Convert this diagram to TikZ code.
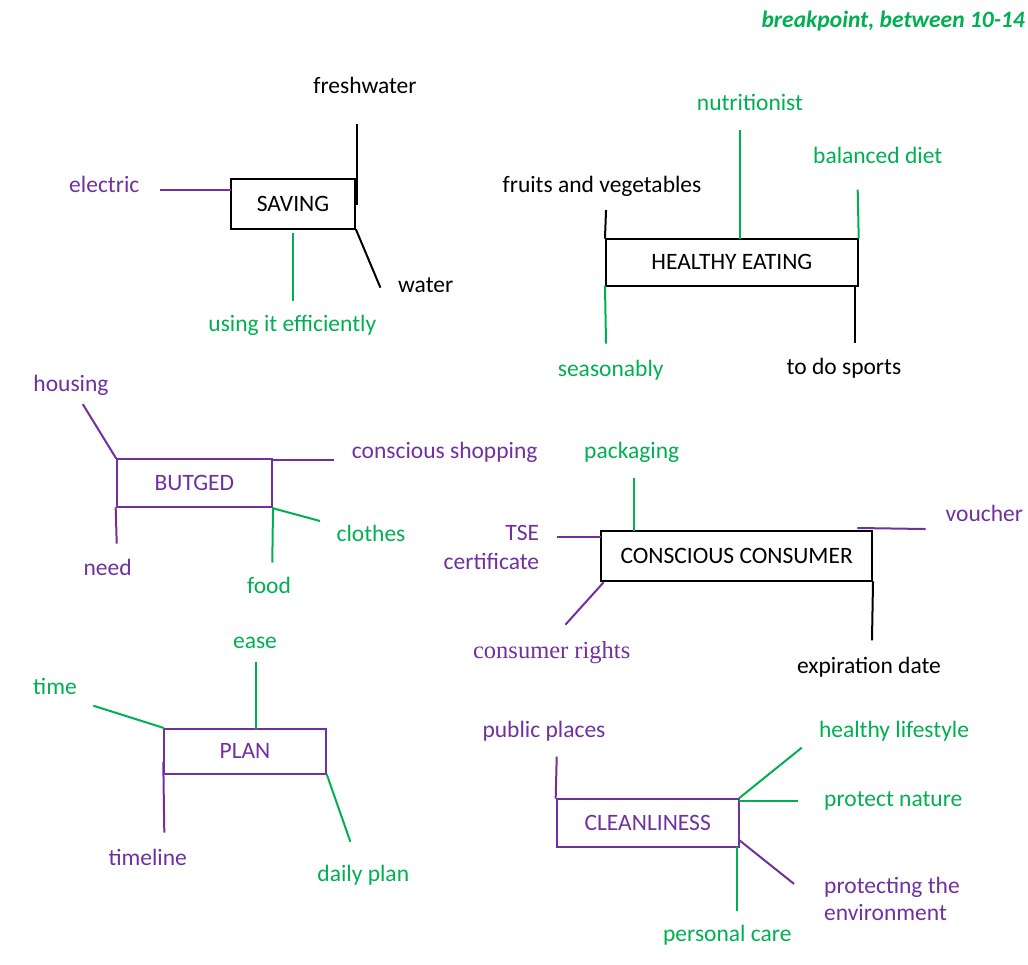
\documentclass[tikz,border=0pt]{standalone}
\usepackage{fontspec}
\setmainfont{Carlito}
\newfontfamily\serifface{Liberation Serif}
\usetikzlibrary{calc}
\definecolor{mmpurple}{HTML}{7030A0}
\definecolor{mmgreen}{HTML}{00B050}
\begin{document}
\begin{tikzpicture}[x=1pt,y=-1pt,
  font=\fontsize{23.5pt}{29pt}\selectfont,
  topic/.style={draw=#1, line width=2pt, inner sep=0pt},
  lbl/.style={inner sep=0pt, anchor=base, text=#1},
  link/.style={draw=#1, line width=2pt, line cap=rect},
]
\useasboundingbox (0,0) rectangle (1028,964);

% ---------- topic boxes ----------
\node[topic=black, minimum width=124.6, minimum height=50] (saving) at (293,204.3) {SAVING};
\node[topic=black, minimum width=251.7, minimum height=47] (healthy) at (731.85,262.2) {HEALTHY EATING};
\node[topic=mmpurple, text=mmpurple, minimum width=155.3, minimum height=48.6] (budget) at (194.35,483) {BUTGED};
\node[topic=black, minimum width=270.7, minimum height=50] (consumer) at (736.65,556.3) {CONSCIOUS CONSUMER};
\node[topic=mmpurple, text=mmpurple, minimum width=162, minimum height=45.3] (plan) at (245,751.35) {PLAN};
\node[topic=mmpurple, text=mmpurple, minimum width=182, minimum height=48.6] (clean) at (647.7,823) {CLEANLINESS};

% ---------- header ----------
\node[lbl=mmgreen, anchor=base east, font=\fontsize{23.5pt}{29pt}\selectfont\bfseries\itshape] (bp) at (1025,27) {breakpoint, between 10-14};

% ---------- SAVING ----------
\coordinate (fw-end) at (357,125);
\coordinate (el-end) at (160.7,190);
\coordinate (use-end) at (293.3,300);
\coordinate (wat-end) at (380,286.7);
\draw[link=black] (fw-end) -- (fw-end |- saving.east);
\draw[link=mmpurple] (el-end) -- (el-end -| saving.west);
\draw[link=mmgreen] ($(saving.south)+(0.3,4)$) -- (use-end);
\draw[link=black] (saving.south east) -- (wat-end);
\node[lbl=black] (fw) at (365,93.3) {freshwater};
\node[lbl=mmpurple] (el) at (104.3,192.7) {electric};
\node[lbl=black] (wat) at (425.7,292.7) {water};
\begin{scope}
  \clip (0,0) rectangle (1028,334);
  \node[lbl=mmgreen] (use) at (292.3,331.7) {using it efficiently};
\end{scope}

% ---------- HEALTHY EATING ----------
\coordinate (fv-end) at (606,211);
\coordinate (nut-end) at (740,130.7);
\coordinate (bal-end) at (857.7,190.7);
\coordinate (sea-end) at (606,342.7);
\coordinate (sp-end) at (855.3,341.7);
\draw[link=black] (fv-end) -- (healthy.north west);
\draw[link=mmgreen] (nut-end) -- (nut-end |- healthy.north);
\draw[link=mmgreen] (bal-end) -- (healthy.north east);
\draw[link=mmgreen] (healthy.south west) -- (sea-end);
\draw[link=black] (sp-end |- healthy.south) -- (sp-end);
\node[lbl=black] (fv) at (602,192.7) {fruits and vegetables};
\node[lbl=mmgreen] (nut) at (750,110.7) {nutritionist};
\node[lbl=mmgreen] (bal) at (877.7,163.3) {balanced diet};
\node[lbl=mmgreen] (sea) at (610.7,376.7) {seasonably};
\node[lbl=black] (sp) at (844,374.3) {to do sports};

% ---------- BUTGED ----------
\coordinate (hou-end) at (83.3,405);
\coordinate (cs-end) at (332.7,460);
\coordinate (clo-end) at (319,520.7);
\coordinate (food-end) at (272.3,561.7);
\coordinate (need-end) at (116.7,542.7);
\draw[link=mmpurple] (hou-end) -- (budget.north west);
\draw[link=mmpurple] (cs-end -| budget.east) -- (cs-end);
\draw[link=mmpurple] (budget.south west) -- (need-end);
\draw[link=mmgreen] (budget.south east) -- (clo-end);
\draw[link=mmgreen] (budget.south east) -- (food-end);
\node[lbl=mmpurple] (hou) at (71,391.7) {housing};
\node[lbl=mmpurple, anchor=base west] (cs) at (351.7,458.3) {conscious shopping};
\node[lbl=mmgreen] (clo) at (371,541) {clothes};
\node[lbl=mmpurple] (need) at (107.7,575) {need};
\node[lbl=mmgreen] (food) at (269,593.3) {food};

% ---------- CONSCIOUS CONSUMER ----------
\coordinate (pk-end) at (634.3,479.3);
\coordinate (tse-end) at (558,537.3);
\coordinate (vo-end) at (924.7,529);
\coordinate (cr-end) at (566,624);
\coordinate (ex-end) at (872,639.3);
\draw[link=mmgreen] (pk-end) -- (pk-end |- consumer.north);
\draw[link=mmpurple] (tse-end) -- (tse-end -| consumer.west);
\draw[link=mmpurple] ($(consumer.north east)+(-14.7,-2.3)$) -- (vo-end);
\draw[link=mmpurple] ($(consumer.south west)+(2.7,0.7)$) -- (cr-end);
\draw[link=black] (consumer.south east) -- (ex-end);
\node[lbl=mmgreen] (pk) at (631.7,458.3) {packaging};
\node[lbl=mmpurple, anchor=base east, align=right] (tse) at (539.3,569) {TSE\\certificate};
\node[lbl=mmpurple, anchor=base west] (vo) at (945.5,521.7) {voucher};
\node[lbl=mmpurple, font=\serifface\fontsize{24.5pt}{29pt}\selectfont] (cr) at (551.7,658.3) {consumer rights};
\node[lbl=black] (ex) at (869,673.3) {expiration date};

% ---------- PLAN ----------
\coordinate (ease-end) at (255.7,662.7);
\coordinate (time-end) at (94.3,706);
\coordinate (tl-end) at (164.3,831.7);
\coordinate (dp-end) at (350,840.7);
\draw[link=mmgreen] (ease-end) -- (ease-end |- plan.north);
\draw[link=mmgreen] (time-end) -- (plan.north west);
\draw[link=mmpurple] ($(plan.south west)+(0.3,-12)$) -- (tl-end);
\draw[link=mmgreen] (plan.south east) -- (dp-end);
\node[lbl=mmgreen] (ease) at (255,648.3) {ease};
\node[lbl=mmgreen] (time) at (55,694) {time};
\node[lbl=mmpurple] (tl) at (147.7,865) {timeline};
\node[lbl=mmgreen] (dp) at (363.3,881.7) {daily plan};

% ---------- CLEANLINESS ----------
\coordinate (pp-end) at (556.7,757.7);
\coordinate (hl-end) at (801,748.3);
\coordinate (pn-end) at (797.3,800.7);
\coordinate (pe-end) at (793.3,883.3);
\coordinate (pc-end) at (736.7,910);
\draw[link=mmpurple] (pp-end) -- (clean.north west);
\draw[link=mmgreen] (clean.north east) -- (hl-end);
\draw[link=mmgreen] (pn-end -| clean.east) -- (pn-end);
\draw[link=mmpurple] ($(clean.south east)+(0.6,-7.3)$) -- (pe-end);
\draw[link=mmgreen] (pc-end |- clean.south) -- (pc-end);
\node[lbl=mmpurple] (pp) at (544,737.3) {public places};
\node[lbl=mmgreen] (hl) at (894,737.3) {healthy lifestyle};
\node[lbl=mmgreen] (pn) at (893.3,806) {protect nature};
\node[lbl=mmpurple, anchor=base west, align=left, font=\fontsize{23.5pt}{27.4pt}\selectfont] (pe) at (824,920.7) {protecting the\\environment};
\node[lbl=mmgreen] (pc) at (727.3,941.7) {personal care};
\end{tikzpicture}
\end{document}
